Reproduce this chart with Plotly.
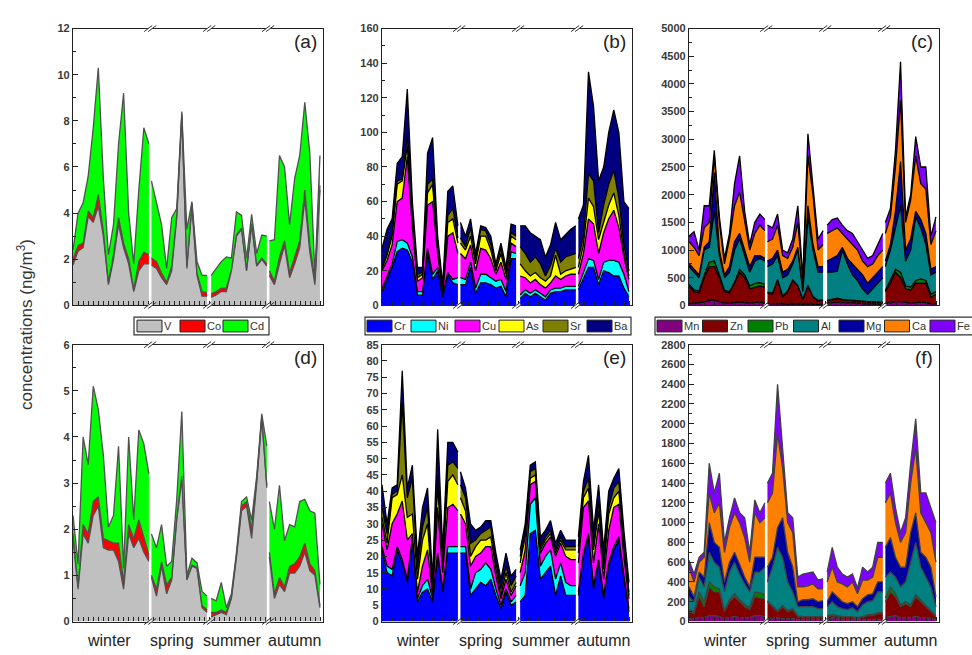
import numpy as np
import plotly.graph_objects as go

# ---------------- sampling layout (sample index per season) ----------------
season_names = ["winter", "spring", "summer", "autumn"]
season_start = [0.0, 15.5, 27.3, 38.8]
season_len = [16, 12, 12, 11]
season_label_x = [7.2, 19.5, 31.5, 43.7]
X_MAX = 49.4

# ---------------- panel (a) : V, Co, Cd ----------------
a_V = [1.75, 2.35, 2.5, 3.85, 3.6, 4.3, 3.0, 0.9, 2.0, 3.5, 2.5, 1.8, 0.6, 1.5, 1.8, 1.8,
       1.75, 1.6, 1.2, 0.9, 1.5, 3.8, 8.2, 1.6, 4.3, 1.3, 0.4, 0.4,
       0.35, 0.45, 0.6, 0.6, 1.5, 3.0, 3.3, 1.5, 3.5, 1.7, 2.0, 1.7,
       1.3, 0.9, 1.8, 2.6, 1.2, 1.8, 2.5, 4.6, 2.3, 0.9, 5.0]
a_Co = [0.25, 0.25, 0.2, 0.25, 0.2, 0.5, 0.2, 0.1, 0.2, 0.3, 0.2, 0.2, 0.1, 0.4, 0.5, 0.4,
        0.3, 0.3, 0.2, 0.1, 0.2, 0.1, 0.1, 0.1, 0.1, 0.1, 0.2, 0.15,
        0.15, 0.15, 0.15, 0.15, 0.05, 0.05, 0.05, 0.05, 0.05, 0.05, 0.05, 0.1,
        0.2, 0.15, 0.3, 0.2, 0.2, 0.3, 0.3, 0.4, 0.3, 0.2, 0.2]
a_Cd = [0.4, 1.4, 1.75, 1.5, 3.9, 5.5, 2.3, 1.2, 1.3, 3.2, 6.5, 2.0, 1.1, 3.1, 5.4, 4.8,
        3.35, 2.6, 2.1, 0.6, 2.1, 0.3, 0.1, 1.6, 0.1, 0.5, 0.7, 0.75,
        0.8, 1.0, 1.15, 1.35, 0.5, 1.0, 0.55, 0.5, 0.4, 0.5, 1.0, 1.2,
        1.3, 1.8, 4.4, 3.2, 2.1, 3.4, 3.7, 3.8, 4.0, 0.2, 1.3]

# ---------------- panel (b) : Cr, Ni, Cu, As, Sr, Ba ----------------
b_Cr = [8, 15, 22, 31, 33, 32, 25, 6, 6, 30, 15, 20, 5, 18, 13, 12,
        12, 12, 22, 7, 13, 13, 12, 10, 11, 5, 27, 27,
        4, 7, 5, 7, 5, 3, 7, 8, 8, 9, 9, 9,
        9, 16, 22, 22, 12, 20, 19, 17, 17, 10, 5]
b_Ni = [1.5, 2, 2, 6, 5, 4, 3, 2, 2, 3, 3, 2, 1, 1, 2, 4,
        4, 3, 3, 3, 5, 5, 4, 4, 4, 3, 4, 3,
        2, 2, 2, 2, 2, 2, 2, 2, 2, 2, 2, 2,
        2, 3, 5, 4, 3, 5, 7, 9, 8, 8, 3]
b_Cu = [10.5, 9, 11, 23, 24, 50, 17, 6, 8, 25, 42, 8, 1, 21, 27, 14,
        14, 12, 10, 10, 15, 14, 11, 4, 10, 7, 5, 4,
        11, 7, 6, 6, 5, 5, 4, 7, 5, 6, 7, 7,
        7, 11, 23, 21, 15, 17, 24, 29, 20, 10, 7]
b_As = [1, 3, 5, 10, 10, 6, 5, 2, 2, 7, 10, 2, 1, 8, 8, 6,
        6, 5, 5, 4, 7, 8, 5, 2, 5, 3, 4, 4,
        7, 4, 4, 4, 4, 4, 4, 12, 3, 3, 3, 4,
        4, 5, 12, 10, 8, 6, 8, 10, 7, 2, 2]
b_Sr = [1, 1, 2, 2, 1, 6, 2, 2, 1, 5, 3, 1, 1, 4, 6, 3,
        3, 2, 5, 3, 4, 3, 3, 2, 3, 2, 2, 2,
        10, 10, 8, 9, 8, 3, 6, 4, 7, 8, 8, 8,
        5, 5, 14, 15, 4, 10, 12, 13, 10, 5, 3]
b_Ba = [11, 14, 8, 10, 13, 27, 8, 4, 3, 18, 24, 7, 3, 14, 13, 7,
        9, 6, 5, 3, 2, 2, 5, 2, 3, 2, 5, 6,
        12, 16, 17, 12, 14, 11, 12, 15, 13, 13, 15, 16,
        23, 18, 59, 43, 30, 22, 30, 35, 38, 25, 36]

# ---------------- panel (c) : Mn, Zn, Pb, Al, Mg, Ca, Fe ----------------
c_Mn = [30, 40, 40, 60, 90, 100, 70, 40, 40, 50, 60, 50, 40, 50, 60, 40,
        30, 30, 40, 30, 20, 30, 30, 20, 30, 20, 20, 20,
        40, 50, 60, 50, 50, 40, 40, 30, 30, 30, 20, 20,
        30, 50, 70, 70, 50, 40, 50, 60, 50, 30, 30]
c_Zn = [320, 210, 190, 440, 610, 600, 430, 210, 190, 350, 540, 450, 260, 280, 290, 290,
        190, 170, 410, 120, 230, 420, 320, 80, 320, 130, 60, 70,
        40, 50, 60, 50, 40, 40, 30, 30, 30, 30, 30, 30,
        220, 350, 530, 430, 250, 240, 350, 340, 350, 120, 170]
c_Pb = [30, 30, 30, 50, 80, 100, 50, 20, 20, 20, 50, 50, 50, 70, 60, 50,
        20, 20, 20, 20, 10, 10, 10, 10, 10, 10, 10, 10,
        10, 10, 10, 10, 10, 10, 10, 10, 10, 10, 10, 10,
        20, 50, 50, 100, 50, 50, 50, 80, 50, 50, 50]
c_Al = [320, 320, 240, 450, 270, 900, 350, 230, 350, 580, 550, 350, 250, 400, 440, 420,
        460, 530, 430, 330, 290, 290, 640, 140, 1240, 840, 510, 500,
        510, 490, 490, 890, 650, 460, 370, 230, 130, 230, 340, 440,
        430, 550, 750, 1200, 450, 670, 1150, 920, 650, 350, 350]
c_Mg = [60, 50, 50, 50, 100, 700, 100, 50, 100, 150, 100, 100, 100, 100, 50, 50,
        100, 100, 100, 100, 100, 50, 50, 50, 200, 100, 100, 100,
        200, 250, 280, 50, 100, 200, 200, 250, 200, 200, 200, 200,
        100, 100, 300, 800, 200, 200, 100, 150, 200, 100, 100]
c_Ca = [390, 400, 350, 350, 350, 300, 500, 200, 500, 650, 750, 500, 300, 400, 550, 500,
        350, 350, 450, 300, 200, 250, 450, 150, 900, 900, 300, 400,
        500, 500, 500, 250, 350, 350, 350, 250, 300, 250, 300, 300,
        500, 500, 800, 1100, 500, 700, 1000, 650, 800, 450, 650]
c_Fe = [100, 280, 100, 400, 300, 100, 100, 100, 100, 400, 650, 200, 100, 200, 200, 200,
        300, 200, 200, 100, 100, 150, 300, 50, 400, 200, 200, 250,
        150, 200, 180, 150, 150, 200, 150, 200, 150, 150, 200, 300,
        200, 150, 300, 700, 100, 100, 350, 300, 400, 150, 250]

# ---------------- panel (d) : V, Co, Cd ----------------
d_V = [1.8, 0.7, 1.9, 1.7, 2.3, 2.5, 1.6, 1.55, 1.55, 1.3, 0.7, 1.9, 1.6, 1.8, 1.5, 1.3,
       0.95, 0.55, 1.2, 0.6, 0.9, 2.2, 3.1, 0.9, 1.2, 1.15, 0.3, 0.2,
       0.1, 0.15, 0.2, 0.15, 0.5, 1.4, 2.4, 2.5, 1.8, 3.0, 4.4, 2.9,
       1.4, 0.5, 0.8, 0.65, 1.05, 1.05, 1.2, 1.5, 1.1, 1.0, 0.3]
d_Co = [0.1, 0.05, 0.2, 0.2, 0.3, 0.2, 0.2, 0.2, 0.15, 0.4, 0.15, 0.2, 0.2, 0.4, 0.35, 0.15,
        0.05, 0.15, 0.1, 0.2, 0.05, 0.05, 0.05, 0.02, 0.02, 0.02, 0.05, 0.05,
        0.1, 0.05, 0.05, 0.05, 0.02, 0.02, 0.1, 0.1, 0.2, 0.05, 0.05, 0.05,
        0.1, 0.1, 0.15, 0.1, 0.15, 0.2, 0.2, 0.2, 0.15, 0.1, 0.05]
d_Cd = [0.4, 0.5, 1.9, 1.5, 2.5, 1.9, 1.8, 0.3, 0.6, 2.1, 0.3, 1.9, 0.4, 1.95, 2.0, 1.75,
        0.9, 0.9, 0.8, 0.4, 0.35, 0.4, 1.4, 0.08, 0.15, 0.1, 0.3, 0.3,
        0.3, 0.25, 0.6, 0.1, 0.08, 0.08, 0.1, 0.1, 0.2, 0.1, 0.05, 0.85,
        1.1, 1.4, 2.0, 1.0, 0.9, 0.8, 1.2, 0.95, 1.15, 1.25, 0.45]

# ---------------- panel (e) : Cr, Ni, Cu, As, Sr, Ba ----------------
e_Cr = [22, 15, 14, 22, 18, 12, 25, 6, 9, 10, 6, 20, 9, 21, 21, 21,
        21, 21, 8, 10, 12, 11, 13, 8, 4, 9, 5, 6,
        6, 8, 27, 28, 13, 15, 17, 8, 14, 8, 8, 8,
        8, 20, 26, 10, 18, 7, 17, 22, 25, 13, 3]
e_Ni = [1, 2, 2, 1, 1, 1, 1, 1, 2, 3, 1, 1, 1, 2, 2, 2,
        2, 2, 2, 5, 4, 7, 3, 2, 1, 1, 1, 2,
        5, 7, 9, 10, 4, 5, 5, 5, 4, 4, 3, 3,
        1, 1, 1, 1, 1, 1, 1, 1, 1, 1, 1]
e_Cu = [7, 5, 14, 10, 18, 12, 1, 2, 6, 9, 1, 14, 5, 12, 13, 11,
        10, 7, 7, 5, 5, 5, 7, 4, 2, 3, 2, 3,
        4, 7, 6, 5, 4, 4, 4, 7, 6, 8, 8, 8,
        9, 14, 10, 7, 11, 5, 10, 12, 10, 6, 3]
e_As = [2, 2, 8, 6, 8, 7, 6, 4, 8, 8, 1, 7, 2, 8, 9, 8,
        5, 4, 3, 3, 4, 2, 3, 2, 1, 2, 1, 1,
        3, 4, 2, 2, 1, 1, 1, 1, 1, 2, 3, 3,
        3, 3, 4, 4, 4, 3, 5, 3, 4, 2, 1]
e_Sr = [3, 3, 1, 1, 22, 6, 11, 3, 4, 5, 1, 3, 2, 5, 4, 5,
        4, 4, 4, 2, 2, 3, 3, 2, 2, 2, 2, 2,
        2, 1, 2, 2, 1, 1, 1, 1, 1, 1, 1, 1,
        2, 2, 3, 1, 3, 1, 2, 3, 3, 1, 1]
e_Ba = [7, 3, 2, 2, 10, 3, 4, 4, 6, 6, 3, 14, 3, 7, 6, 5,
        4, 3, 6, 3, 2, 3, 2, 3, 3, 4, 3, 2,
        2, 3, 2, 2, 3, 2, 3, 2, 2, 2, 2, 2,
        3, 3, 7, 5, 5, 5, 5, 3, 4, 5, 3]

# ---------------- panel (f) : Mn, Zn, Pb, Al, Mg, Ca, Fe ----------------
f_Mn = [30, 30, 40, 40, 60, 60, 50, 30, 40, 50, 40, 40, 40, 60, 60, 50,
        30, 30, 40, 30, 30, 30, 20, 20, 20, 20, 20, 20,
        30, 40, 30, 20, 20, 20, 20, 20, 20, 20, 20, 20,
        40, 50, 60, 40, 40, 40, 50, 40, 40, 30, 20]
f_Zn = [70, 50, 210, 110, 290, 240, 250, 70, 160, 200, 160, 110, 80, 190, 180, 180,
        170, 120, 60, 120, 70, 90, 30, 20, 20, 20, 20, 20,
        20, 20, 20, 20, 20, 20, 10, 20, 40, 40, 60, 60,
        160, 250, 190, 110, 140, 110, 200, 160, 110, 70, 30]
f_Pb = [20, 20, 50, 50, 50, 50, 30, 10, 20, 30, 20, 20, 20, 50, 50, 40,
        10, 10, 10, 10, 10, 10, 10, 10, 10, 10, 10, 10,
        10, 10, 10, 10, 10, 10, 10, 10, 10, 10, 10, 10,
        40, 50, 30, 20, 20, 20, 20, 20, 20, 20, 10]
f_Al = [130, 100, 150, 150, 300, 250, 220, 190, 280, 320, 260, 210, 160, 200, 210, 280,
        190, 390, 640, 490, 290, 170, 90, 100, 100, 100, 80, 80,
        90, 130, 90, 80, 70, 90, 60, 120, 130, 140, 210, 210,
        210, 150, 170, 180, 200, 430, 530, 330, 280, 230, 90]
f_Mg = [100, 50, 50, 100, 300, 200, 200, 100, 100, 100, 100, 70, 50, 150, 150, 100,
        150, 100, 200, 400, 300, 250, 50, 70, 70, 80, 70, 80,
        50, 100, 100, 70, 60, 60, 50, 60, 70, 70, 100, 100,
        300, 350, 200, 200, 150, 300, 300, 150, 200, 200, 100]
f_Ca = [200, 150, 100, 200, 300, 300, 450, 300, 350, 400, 420, 400, 250, 450, 350, 400,
        650, 650, 950, 500, 300, 350, 150, 130, 140, 150, 130, 120,
        200, 250, 150, 180, 170, 200, 130, 190, 150, 170, 250, 250,
        450, 450, 350, 250, 350, 500, 650, 400, 350, 350, 350]
f_Fe = [70, 80, 50, 50, 300, 200, 300, 100, 100, 150, 100, 200, 100, 130, 100, 150,
        200, 200, 500, 150, 100, 150, 100, 130, 130, 120, 90, 100,
        100, 200, 150, 100, 100, 80, 60, 130, 80, 100, 150, 150,
        200, 200, 150, 100, 150, 200, 300, 200, 300, 250, 400]

# ---------------- names / colours ----------------
grp1_names = ["V", "Co", "Cd"]
grp1_colors = ["#C0C0C0", "#FF0000", "#00FF00"]
grp2_names = ["Cr", "Ni", "Cu", "As", "Sr", "Ba"]
grp2_colors = ["#0000FF", "#00FFFF", "#FF00FF", "#FFFF00", "#808000", "#000080"]
grp3_names = ["Mn", "Zn", "Pb", "Al", "Mg", "Ca", "Fe"]
grp3_colors = ["#800080", "#800000", "#008000", "#008080", "#0000A0", "#FF8000", "#8000FF"]

panels = [
    dict(tag="(a)", names=grp1_names, colors=grp1_colors, series=[a_V, a_Co, a_Cd],
         line="#505050", ymax=12, dtick=2, minor=1),
    dict(tag="(b)", names=grp2_names, colors=grp2_colors,
         series=[b_Cr, b_Ni, b_Cu, b_As, b_Sr, b_Ba], line="#000000", ymax=160, dtick=20, minor=10),
    dict(tag="(c)", names=grp3_names, colors=grp3_colors,
         series=[c_Mn, c_Zn, c_Pb, c_Al, c_Mg, c_Ca, c_Fe], line="#000000", ymax=5000, dtick=500, minor=250),
    dict(tag="(d)", names=grp1_names, colors=grp1_colors, series=[d_V, d_Co, d_Cd],
         line="#505050", ymax=6, dtick=1, minor=0.5),
    dict(tag="(e)", names=grp2_names, colors=grp2_colors,
         series=[e_Cr, e_Ni, e_Cu, e_As, e_Sr, e_Ba], line="#000000", ymax=85, dtick=5, minor=None),
    dict(tag="(f)", names=grp3_names, colors=grp3_colors,
         series=[f_Mn, f_Zn, f_Pb, f_Al, f_Mg, f_Ca, f_Fe], line="#404040", ymax=2800, dtick=200, minor=100),
]

W, H = 972, 655
col_px = [(73, 323), (382, 632), (689, 939)]
row_px = [(23, 305), (345, 627)]
FONT = "Liberation Sans, Arial, sans-serif"

n_total = sum(season_len)
for p in panels:
    for s in p["series"]:
        assert len(s) == n_total, (p["tag"], len(s))

offsets = np.concatenate([[0], np.cumsum(season_len)])
fig = go.Figure()
shapes = []
annotations = []

for i, p in enumerate(panels):
    k = i + 1
    xname = "x" if k == 1 else f"x{k}"
    yname = "y" if k == 1 else f"y{k}"
    r, c = divmod(i, 3)
    for s in range(4):
        xs = season_start[s] + np.arange(season_len[s])
        for name, vals, colr in zip(p["names"], p["series"], p["colors"]):
            fig.add_trace(go.Scatter(
                x=xs, y=vals[offsets[s]:offsets[s + 1]],
                stackgroup=f"{p['tag']}{s}", mode="lines",
                line=dict(color=p["line"], width=1.3),
                fillcolor=colr, name=name, showlegend=False,
                xaxis=xname, yaxis=yname, hoverinfo="skip"))
    x0, x1 = col_px[c]
    y0, y1 = row_px[r]
    xa = dict(domain=[x0 / W, x1 / W], range=[0, X_MAX], anchor=yname,
              showline=True, mirror=True, linecolor="#222", linewidth=1.3,
              ticks="inside", dtick=1, tick0=0, ticklen=4, tickcolor="#222",
              showticklabels=False, showgrid=False, zeroline=False)
    ya = dict(domain=[1 - y1 / H, 1 - y0 / H], range=[0, p["ymax"]], anchor=xname,
              showline=True, mirror=True, linecolor="#222", linewidth=1.3,
              ticks="inside", dtick=p["dtick"], ticklen=5, tickcolor="#222",
              tickfont=dict(family=FONT, size=11, color="#3a3a3a", weight="bold"),
              showgrid=False, zeroline=False)
    if p["minor"]:
        ya["minor"] = dict(ticks="inside", dtick=p["minor"], ticklen=3, tickcolor="#222")
    fig.layout[("xaxis" if k == 1 else f"xaxis{k}")] = xa
    fig.layout[("yaxis" if k == 1 else f"yaxis{k}")] = ya

    # axis-break marks at season gaps
    for g in range(3):
        xc = (season_start[g] + season_len[g] - 1 + season_start[g + 1]) / 2
        for yy in (0, 1):
            shapes.append(dict(type="line", xref=xname, yref=f"{yname} domain",
                               x0=xc - 0.45, x1=xc + 0.45, y0=yy, y1=yy,
                               line=dict(color="white", width=2.5)))
            for off in (-0.4, 0.4):
                shapes.append(dict(type="line", xref=xname, yref=f"{yname} domain",
                                   x0=xc + off - 0.8, x1=xc + off + 0.8,
                                   y0=yy - 0.011, y1=yy + 0.011,
                                   line=dict(color="#333", width=1)))
    # panel tag
    annotations.append(dict(text=p["tag"], xref=f"{xname} domain", yref=f"{yname} domain",
                            x=0.985, y=0.955, xanchor="right", yanchor="middle", showarrow=False,
                            font=dict(family=FONT, size=19, color="#222")))
    # season labels below bottom row
    if r == 1:
        for lab, lx in zip(season_names, season_label_x):
            annotations.append(dict(text=lab, xref=xname, yref="paper", x=lx, y=1 - 636 / H,
                                    xanchor="center", yanchor="top", showarrow=False,
                                    font=dict(family=FONT, size=16, color="#222")))

# manual legends between the rows
legend_specs = [
    (grp1_names, grp1_colors, 134, 269, 137, 43.0, 25),
    (grp2_names, grp2_colors, 365, 631, 367, 44.0, 25),
    (grp3_names, grp3_colors, 655, 985, 657, 45.5, 25),
]
ly0, ly1 = 317, 335
for names, colors, bx0, bx1, sx0, pitch, sw in legend_specs:
    shapes.append(dict(type="rect", xref="paper", yref="paper", layer="below",
                       x0=bx0 / W, x1=bx1 / W, y0=1 - ly1 / H, y1=1 - ly0 / H,
                       line=dict(color="#333", width=1.2), fillcolor="white"))
    for j, (nm, colr) in enumerate(zip(names, colors)):
        sx = sx0 + j * pitch
        shapes.append(dict(type="rect", xref="paper", yref="paper", layer="below",
                           x0=sx / W, x1=(sx + sw) / W, y0=1 - (ly1 - 3) / H, y1=1 - (ly0 + 3) / H,
                           line=dict(color="#222", width=1), fillcolor=colr))
        annotations.append(dict(text=nm, xref="paper", yref="paper", x=(sx + sw + 1) / W,
                                y=1 - (ly0 + ly1) / 2 / H, xanchor="left", yanchor="middle",
                                showarrow=False, borderpad=0,
                                font=dict(family=FONT, size=11, color="#333")))

# y-axis title
annotations.append(dict(text="concentrations (ng/m<sup>3</sup>)", xref="paper", yref="paper",
                        x=25 / W, y=1 - 325 / H, textangle=-90, xanchor="center", yanchor="middle",
                        showarrow=False, font=dict(family=FONT, size=17, color="#333")))

fig.update_layout(width=W, height=H, margin=dict(l=0, r=0, t=0, b=0),
                  paper_bgcolor="white", plot_bgcolor="white",
                  shapes=shapes, annotations=annotations, showlegend=False)
fig.write_html("out.html", config={"displayModeBar": False},
               post_script="document.body.style.margin='0px';")
